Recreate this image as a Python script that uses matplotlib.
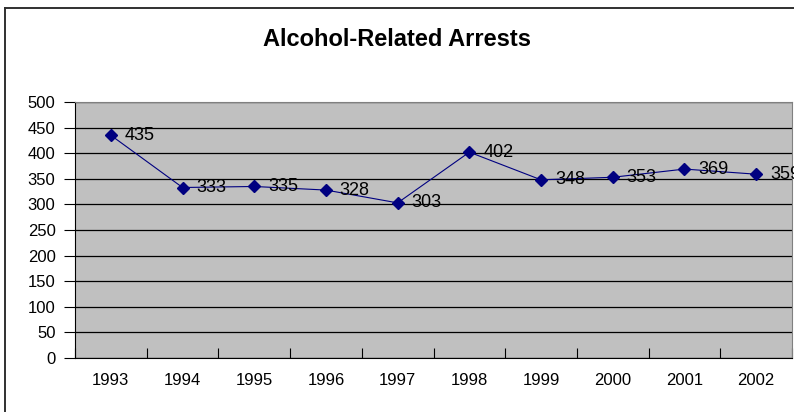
import matplotlib.pyplot as plt
from matplotlib.lines import Line2D

plt.rcParams['font.family'] = ['Liberation Sans', 'DejaVu Sans']

years = ["1993", "1994", "1995", "1996", "1997", "1998", "1999", "2000", "2001", "2002"]
arrests = [435, 333, 335, 328, 303, 402, 348, 353, 369, 359]

fig = plt.figure(figsize=(7.94, 4.12), dpi=100)
ax = fig.add_axes([75 / 794, 54 / 412, 717 / 794, 256 / 412])
ax.set_facecolor("#C0C0C0")

x = list(range(len(years)))
ax.plot(x, arrests, color="#000080", lw=0.8, marker="D", markersize=6,
        markerfacecolor="#000080", markeredgecolor="#000080")

for xi, v in zip(x, arrests):
    ax.annotate(str(v), (xi, v), xytext=(10, 0), textcoords="offset points",
                ha="left", va="center", fontsize=13, color="black",
                annotation_clip=False)

ax.set_xlim(-0.5, len(years) - 0.5)
ax.set_ylim(0, 500)
ax.set_yticks(range(0, 501, 50))
ax.yaxis.grid(True, color="black", lw=0.9)
ax.set_axisbelow(True)

# category ticks sit between categories, labels at centres
ax.set_xticks([i - 0.5 for i in range(len(years) + 1)])
ax.set_xticklabels([])
ax.set_xticks(x, minor=True)
ax.set_xticklabels(years, minor=True, fontsize=12)
ax.tick_params(axis="x", which="major", direction="in", length=7, color="black")
ax.tick_params(axis="x", which="minor", length=0, pad=11)
ax.tick_params(axis="y", direction="out", length=8, pad=6, labelsize=12)

for side in ["left", "bottom"]:
    ax.spines[side].set_color("black")
for side in ["top", "right"]:
    ax.spines[side].set_color("#808080")

fig.text(0.5, 1 - 40 / 412, "Alcohol-Related Arrests", ha="center", va="center",
         fontsize=17, fontweight="bold")

# chart frame (left and top edges visible)
fig.add_artist(Line2D([5 / 794, 5 / 794], [0, 1 - 8 / 412], color="#303030", lw=1.4))
fig.add_artist(Line2D([5 / 794, 1], [1 - 8 / 412, 1 - 8 / 412], color="#303030", lw=1.4))

fig.savefig("out.png", dpi=100)
